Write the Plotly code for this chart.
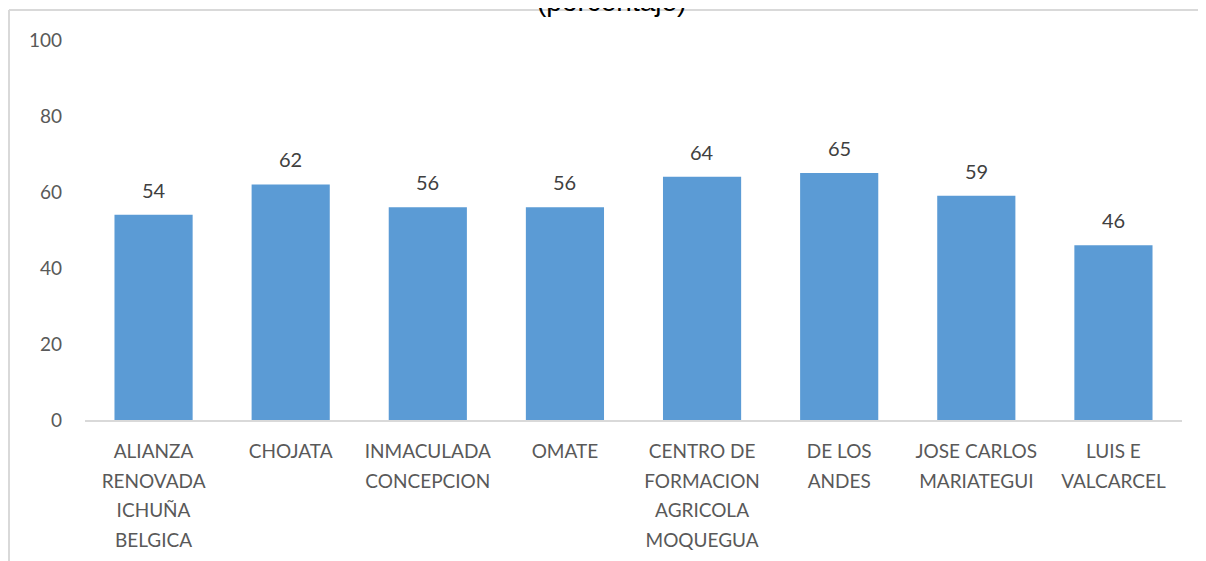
import plotly.graph_objects as go

# datos
colegios = ["ALIANZA<br>RENOVADA<br>ICHUÑA<br>BELGICA", "CHOJATA", "INMACULADA<br>CONCEPCION", "OMATE",
            "CENTRO DE<br>FORMACION<br>AGRICOLA<br>MOQUEGUA", "DE LOS<br>ANDES", "JOSE CARLOS<br>MARIATEGUI",
            "LUIS E<br>VALCARCEL"]
porcentaje = [54, 62, 56, 56, 64, 65, 59, 46]
y_ticks = [0, 20, 40, 60, 80, 100]

# etiquetas con espaciado de linea mayor
etiquetas = ["<br>".join('<span style="font-size:19px">%s</span>' % p for p in c.split("<br>")) for c in colegios]

fig = go.Figure()
fig.add_trace(go.Bar(x=colegios, y=porcentaje, marker_color="#5B9BD5", marker_line_width=0))

for c, v in zip(colegios, porcentaje):
    fig.add_annotation(x=c, y=v, text=str(v), showarrow=False, yanchor="middle", yshift=25,
                       font=dict(family="Lato", size=20, color="#404040"))

# titulo cortado arriba
fig.add_annotation(x=0.48, y=1.1025, xref="paper", yref="paper", text="(porcentaje)", showarrow=False,
                   yanchor="middle", font=dict(family="Liberation Sans", size=28, color="#000000"))

# marco
fig.add_shape(type="line", xref="paper", yref="paper", x0=-0.0693, x1=1.045, y0=1.0789, y1=1.0789,
              line=dict(color="#d9d9d9", width=2))
fig.add_shape(type="line", xref="paper", yref="paper", x0=-0.0693, x1=-0.0693, y0=1.0789, y1=-0.4,
              line=dict(color="#d9d9d9", width=2))

# la pagina tiene 8px de margen, se compensa
fig.update_layout(
    width=1206, height=561,
    margin=dict(l=77, r=32, t=32, b=149),
    plot_bgcolor="white", paper_bgcolor="white",
    bargap=0.43, showlegend=False,
    font=dict(family="Lato", color="#595959"),
)
fig.update_xaxes(tickvals=colegios, ticktext=etiquetas, tickfont=dict(size=23, color="#595959"),
                 showline=True, linecolor="#d9d9d9", linewidth=2, ticks="", showgrid=False,
                 ticklabelstandoff=8)
fig.update_yaxes(range=[0, 100], tickvals=y_ticks, tickfont=dict(size=19, color="#595959"),
                 showgrid=False, zeroline=False, showline=False, ticklabelstandoff=22)

fig.write_html("out.html")
